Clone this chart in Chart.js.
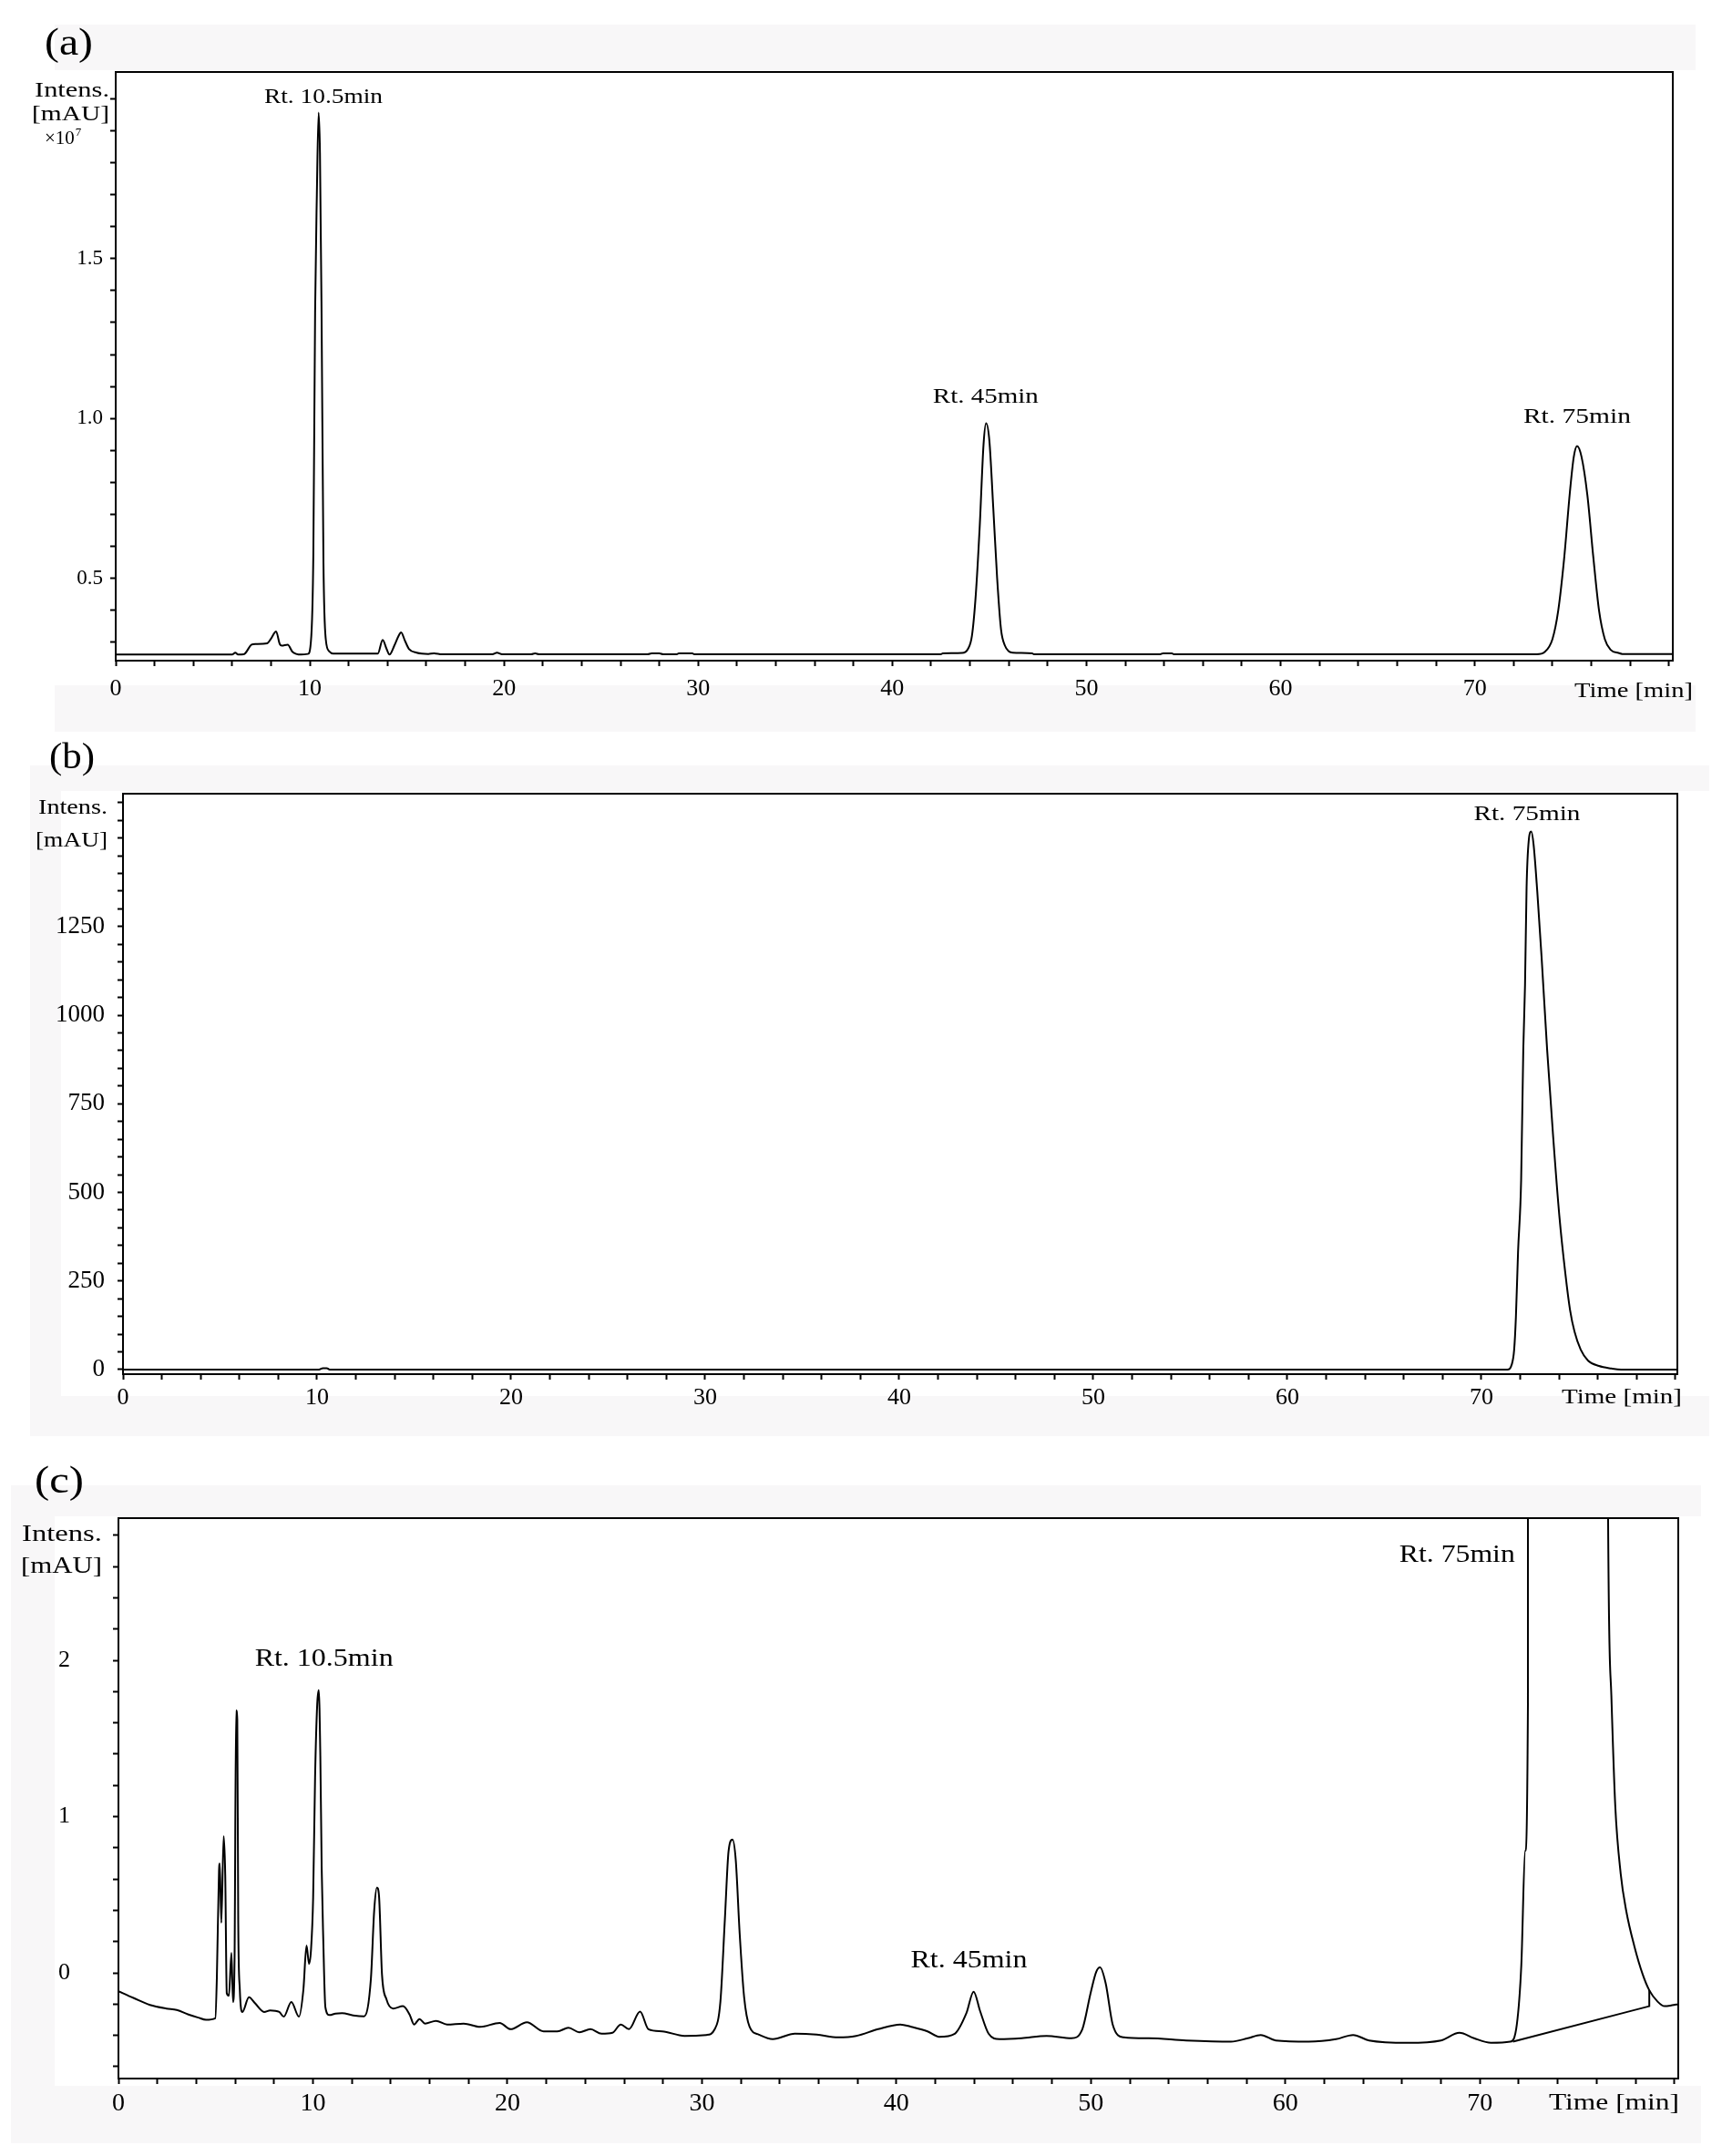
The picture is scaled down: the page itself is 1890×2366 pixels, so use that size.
<!DOCTYPE html>
<html lang="en">
<head>
<meta charset="UTF-8">
<title>HPLC chromatograms</title>
<script src="https://cdn.jsdelivr.net/npm/chart.js"></script>
<style>
  body { margin: 0; width: 1890px; height: 2366px; position: relative; background: #fff; overflow: hidden; }
  .band { position: absolute; background: #f8f7f8; }
  .white { position: absolute; background: #fff; }
  canvas { position: absolute; left: 0; }
</style>
</head>
<body>
<div class="band" style="left:60px;top:27px;width:1801px;height:776px"></div>
<div class="white" style="left:0;top:77px;width:1861px;height:675px"></div>
<div class="band" style="left:33px;top:840px;width:1843px;height:736px"></div>
<div class="white" style="left:67px;top:868px;width:1809px;height:664px"></div>
<div class="band" style="left:12px;top:1630px;width:1855px;height:722px"></div>
<div class="white" style="left:60px;top:1664px;width:1807px;height:625px"></div>

<canvas id="chartA" width="1890" height="790" style="top:0"></canvas>
<canvas id="chartB" width="1890" height="790" style="top:790px"></canvas>
<canvas id="chartC" width="1890" height="786" style="top:1580px"></canvas>

<script>
// ---- data ----
// (a) intensity in units of 1e7
const timeA = [0, 6.0, 6.16, 6.3, 6.6, 7.0, 7.2, 7.8, 8.0, 8.26, 8.45, 8.55, 8.86, 9.1, 9.55, 9.9,
  10.05, 10.18, 10.27, 10.36, 10.45, 10.52, 10.6, 10.7, 10.82, 11.0, 11.2,
  13.5, 13.75, 13.95, 14.1, 14.35, 14.55, 14.7, 14.9, 15.1, 15.5, 16.1, 16.4, 16.8,
  19.4, 19.64, 19.9, 21.4, 21.6, 21.8, 27.4, 27.6, 28.0, 28.2, 28.9, 29.0, 29.7, 29.8,
  42.5, 42.6, 43.6, 43.9, 44.1, 44.3, 44.5, 44.7, 44.83, 45.0, 45.2, 45.4, 45.6, 45.8, 46.0, 46.2, 47.2, 47.3,
  53.8, 53.95, 54.4, 54.5,
  73.2, 73.6, 74.0, 74.3, 74.6, 74.9, 75.1, 75.27, 75.5, 75.8, 76.1, 76.4, 76.7, 77.0, 77.4, 77.6, 80.2];
const intensA = [0.262, 0.262, 0.268, 0.262, 0.263, 0.293, 0.295, 0.297, 0.312, 0.334, 0.295, 0.29, 0.293, 0.271, 0.262, 0.264,
  0.30, 0.58, 1.33, 1.70, 1.956, 1.83, 1.35, 0.55, 0.31, 0.272, 0.265,
  0.265, 0.308, 0.28, 0.262, 0.29, 0.318, 0.331, 0.305, 0.28, 0.268, 0.264, 0.266, 0.263,
  0.263, 0.268, 0.263, 0.263, 0.266, 0.263, 0.263, 0.266, 0.266, 0.263, 0.263, 0.266, 0.266, 0.263,
  0.263, 0.266, 0.267, 0.28, 0.32, 0.45, 0.66, 0.92, 0.985, 0.93, 0.72, 0.50, 0.34, 0.29, 0.272, 0.268, 0.266, 0.263,
  0.263, 0.266, 0.266, 0.263,
  0.263, 0.27, 0.31, 0.40, 0.56, 0.77, 0.88, 0.914, 0.88, 0.76, 0.57, 0.40, 0.31, 0.277, 0.267, 0.264, 0.264];

// (b) intensity in mAU
const timeB = [0, 10.1, 10.3, 10.5, 10.65, 71.34, 71.57, 71.69, 71.78, 71.89, 72.05, 72.16, 72.25, 72.33, 72.44,
  72.57, 72.69, 72.88, 73.1, 73.39, 73.7, 74.02, 74.33, 74.57, 74.8, 75.12, 75.5, 76.06, 76.7, 77.2, 80.1];
const intensB = [0, 0, 4, 4, 0, 0, 15, 56, 148, 331, 535, 902, 1085, 1360, 1492,
  1518, 1482, 1350, 1167, 902, 657, 433, 270, 168, 107, 56, 25, 10, 3, 0, 0];

// (c) intensity in mAU (zoomed view; the 72.5 min apex is far off scale)
const timeC = [0, 0.77, 1.62, 2.47, 3.0, 3.6, 4.1, 4.5, 4.98, 5.06, 5.17, 5.21, 5.29, 5.41, 5.49, 5.57, 5.68,
  5.81, 5.89, 5.97, 6.05, 6.11, 6.16, 6.24, 6.37, 6.71, 7.02, 7.49, 7.8, 8.27, 8.5, 8.89, 9.28, 9.51, 9.67,
  9.8, 9.9, 10.01, 10.11, 10.22, 10.3, 10.38, 10.45, 10.53, 10.64, 10.85, 11.16, 11.5, 12.07,
  12.63, 12.98, 13.15, 13.29, 13.4, 13.55, 13.78, 14.12, 14.63, 14.97, 15.2, 15.48, 15.76, 16.33, 16.9, 17.75,
  18.6, 19.6, 20.16, 21.0, 21.86, 22.57, 23.14, 23.7, 24.27, 24.84, 25.4, 25.83, 26.25, 26.82, 27.25, 27.96,
  29.1, 30.23, 30.66, 30.95, 31.18, 31.37, 31.57, 31.74, 31.94, 32.17, 32.45, 32.93, 33.64, 34.78, 35.9, 37.0,
  37.93, 39.06, 40.2, 40.76, 41.6, 42.2, 43.0, 43.6, 43.97, 44.3, 44.74, 45.3, 46.44, 47.72, 49.0, 49.56,
  49.99, 50.27, 50.47, 50.76, 51.12, 51.69, 52.97, 54.9, 57.2, 58.07, 58.73, 59.5, 61.2, 62.6, 63.48, 64.3,
  66.3, 68.0, 68.95, 69.7, 70.57, 71.56, 71.9, 72.13, 72.33, 72.47, 72.5, 76.59, 76.76, 76.96, 77.24, 77.52,
  77.95, 78.37, 78.71, 79.14, 79.5, 79.88, 80.2];
const intensC = [-0.117, -0.16, -0.205, -0.228, -0.237, -0.266, -0.286, -0.30, -0.29, -0.03, 0.65, 0.70, 0.32, 0.875, 0.63, -0.13, -0.146,
  0.128, -0.186, 0.088, 1.68, 1.62, 0.32, -0.106, -0.25, -0.156, -0.194, -0.25, -0.24, -0.25, -0.28, -0.186, -0.28, -0.106, 0.175,
  0.058, 0.146, 0.48, 1.25, 1.72, 1.81, 1.39, 0.67, 0.22, -0.22, -0.27, -0.26, -0.257, -0.272,
  -0.278, -0.038, 0.40, 0.546, 0.488, -0.009, -0.169, -0.228, -0.213, -0.266, -0.33, -0.295, -0.324, -0.307, -0.33, -0.324,
  -0.345, -0.32, -0.36, -0.316, -0.374, -0.374, -0.351, -0.38, -0.36, -0.389, -0.383, -0.33, -0.36, -0.248, -0.36, -0.374,
  -0.403, -0.397, -0.36, -0.184, 0.342, 0.78, 0.853, 0.722, 0.254, -0.155, -0.345, -0.395, -0.424, -0.389, -0.395, -0.412,
  -0.403, -0.36, -0.33, -0.345, -0.374, -0.409, -0.389, -0.257, -0.12, -0.243, -0.389, -0.424, -0.418, -0.403, -0.418, -0.36,
  -0.126, 0.006, 0.035, -0.067, -0.33, -0.412, -0.418, -0.432, -0.44, -0.418, -0.397, -0.432, -0.44, -0.424, -0.397, -0.432,
  -0.447, -0.432, -0.383, -0.418, -0.447, -0.44, -0.33, 0.05, 0.78, 1.715, 1518, 2.95, 1.774, 1.07, 0.634, 0.40,
  0.167, -0.009, -0.111, -0.184, -0.213, -0.207, -0.2];

// integration baseline under the 75 min peak in (c)
const baseTimeC = [71.7, 78.71, 78.71];
const baseIntensC = [-0.44, -0.213, -0.111];

// tick labels
const xTickLabels = [0, 10, 20, 30, 40, 50, 60, 70];
const yTickLabelsA = [0.5, 1.0, 1.5];
const yTickLabelsB = [0, 250, 500, 750, 1000, 1250];
const yTickLabelsC = [0, 1, 2];

// ---- helpers ----
const FONT = '"Liberation Serif", "Times New Roman", serif';
Chart.defaults.font.family = FONT;
Chart.defaults.color = '#000';

function steps(lo, hi, step) {
  const out = [];
  const n = Math.round((hi - lo) / step);
  for (let i = 0; i <= n; i++) out.push(Math.round((lo + i * step) * 1000) / 1000);
  return out;
}
function pts(xs, ys) { return xs.map((x, i) => ({ x: x, y: ys[i] })); }
function isLabel(list, v) { return list.some(l => Math.abs(l - v) < 1e-6); }

// draws text squeezed/stretched to a given width
function fitText(ctx, txt, x, y, size, width, align) {
  ctx.save();
  ctx.font = size + 'px ' + FONT;
  const w = ctx.measureText(txt).width;
  ctx.translate(x, y);
  ctx.scale(width ? width / w : 1, 1);
  ctx.textAlign = align || 'left';
  ctx.textBaseline = 'alphabetic';
  ctx.fillStyle = '#000';
  ctx.fillText(txt, 0, 0);
  ctx.restore();
}

// frame + texts plugin
function framePlugin(texts, peaks) {
  return {
    id: 'frame',
    beforeDraw(chart) {
      const a = chart.chartArea, ctx = chart.ctx;
      ctx.save();
      ctx.fillStyle = '#fff';
      ctx.fillRect(a.left, a.top, a.right - a.left, a.bottom - a.top);
      ctx.restore();
    },
    afterDraw(chart) {
      const a = chart.chartArea, ctx = chart.ctx;
      ctx.save();
      ctx.strokeStyle = '#000';
      ctx.lineWidth = 2;
      ctx.beginPath();
      ctx.moveTo(a.left, a.top);
      ctx.lineTo(a.right, a.top);
      ctx.lineTo(a.right, a.bottom);
      ctx.stroke();
      ctx.restore();
      texts.forEach(t => {
        if (t.sup) {
          ctx.save();
          ctx.font = t.size + 'px ' + FONT;
          ctx.fillStyle = '#000';
          ctx.fillText(t.text, t.x, t.y);
          const w = ctx.measureText(t.text).width;
          ctx.font = Math.round(t.size * 0.62) + 'px ' + FONT;
          ctx.fillText(t.sup, t.x + w + 1, t.y - t.size * 0.42);
          ctx.restore();
        } else {
          fitText(ctx, t.text, t.x, t.y, t.size, t.w, t.align);
        }
      });
      const xs = chart.scales.x, ys = chart.scales.y;
      peaks.forEach(p => {
        fitText(ctx, p.text, xs.getPixelForValue(p.t), ys.getPixelForValue(p.v), p.size, p.w, 'center');
      });
    }
  };
}

function makeChart(id, cfg) {
  const datasets = cfg.series.map((s, i) => ({
    data: s,
    borderColor: '#000',
    borderWidth: 2,
    pointRadius: 0,
    tension: 0,
    cubicInterpolationMode: i === 0 ? 'monotone' : 'default',
    fill: false
  }));
  return new Chart(document.getElementById(id), {
    type: 'line',
    data: { datasets: datasets },
    options: {
      responsive: false,
      animation: false,
      devicePixelRatio: 1,
      parsing: false,
      layout: { padding: { top: cfg.top, right: cfg.right, left: 0, bottom: 0 } },
      plugins: { legend: { display: false }, tooltip: { enabled: false } },
      scales: {
        x: {
          type: 'linear',
          min: 0,
          max: cfg.xMax,
          afterBuildTicks: s => { s.ticks = steps(0, 80, 2).map(v => ({ value: v })); },
          afterFit: s => { s.height = cfg.xH; },
          ticks: {
            autoSkip: false, maxRotation: 0, padding: cfg.xPad,
            font: { size: cfg.xFont },
            callback: v => (isLabel(xTickLabels, v) ? String(v) : '')
          },
          grid: { drawOnChartArea: false, tickLength: 6, tickWidth: 2, tickColor: '#000' },
          border: { color: '#000', width: 2 }
        },
        y: {
          type: 'linear',
          min: cfg.yMin,
          max: cfg.yMax,
          afterBuildTicks: s => { s.ticks = cfg.yTicks.map(v => ({ value: v })); },
          afterFit: s => { s.width = cfg.yW; },
          ticks: {
            autoSkip: false, padding: cfg.yPad,
            font: { size: cfg.yFont },
            callback: v => (isLabel(cfg.yLabels, v) ? cfg.fmt(v) : '')
          },
          grid: { drawOnChartArea: false, tickLength: 6, tickWidth: 2, tickColor: '#000' },
          border: { color: '#000', width: 2 }
        }
      }
    },
    plugins: [framePlugin(cfg.texts, cfg.peaks)]
  });
}

// (a)
makeChart('chartA', {
  series: [pts(timeA, intensA)],
  top: 79, right: 54, xH: 65, yW: 127,
  xMax: 80.2, yMin: 0.243, yMax: 2.083,
  yTicks: steps(0.3, 2.0, 0.1), yLabels: yTickLabelsA, fmt: v => v.toFixed(1),
  xPad: 10, xFont: 26, yPad: 8, yFont: 23,
  texts: [
    { text: '(a)', x: 49, y: 60, size: 42, w: 53 },
    { text: 'Intens.', x: 38, y: 106, size: 23, w: 82 },
    { text: '[mAU]', x: 35, y: 132, size: 23, w: 85 },
    { text: '\u00d710', x: 49, y: 158, size: 21, sup: '7' },
    { text: 'Time [min]', x: 1728, y: 765, size: 24, w: 130 }
  ],
  peaks: [
    { text: 'Rt. 10.5min', t: 10.7, v: 1.986, size: 23, w: 130 },
    { text: 'Rt. 45min', t: 44.81, v: 1.049, size: 23, w: 116 },
    { text: 'Rt. 75min', t: 75.27, v: 0.986, size: 23, w: 118 }
  ]
});

// (b)
makeChart('chartB', {
  series: [pts(timeB, intensB)],
  top: 81, right: 49, xH: 72, yW: 135,
  xMax: 80.1, yMin: -13, yMax: 1625,
  yTicks: steps(0, 1600, 50), yLabels: yTickLabelsB, fmt: v => String(v),
  xPad: 5, xFont: 26, yPad: 14, yFont: 27,
  texts: [
    { text: '(b)', x: 54, y: 53, size: 40, w: 50 },
    { text: 'Intens.', x: 42, y: 103, size: 23, w: 76 },
    { text: '[mAU]', x: 39, y: 139, size: 23, w: 79 },
    { text: 'Time [min]', x: 1714, y: 750, size: 24, w: 132 }
  ],
  peaks: [
    { text: 'Rt. 75min', t: 72.35, v: 1551, size: 24, w: 117 }
  ]
});

// (c)
makeChart('chartC', {
  series: [pts(timeC, intensC), pts(baseTimeC, baseIntensC)],
  top: 86, right: 48, xH: 85, yW: 130,
  xMax: 80.2, yMin: -0.676, yMax: 2.91,
  yTicks: steps(-0.6, 2.8, 0.2), yLabels: yTickLabelsC, fmt: v => String(v),
  xPad: 5, xFont: 28, yPad: 47, yFont: 26,
  texts: [
    { text: '(c)', x: 38, y: 58, size: 42, w: 54 },
    { text: 'Intens.', x: 24, y: 111, size: 26, w: 88 },
    { text: '[mAU]', x: 23, y: 146, size: 26, w: 89 },
    { text: 'Time [min]', x: 1700, y: 735, size: 26, w: 143 }
  ],
  peaks: [
    { text: 'Rt. 10.5min', t: 10.57, v: 1.965, size: 27, w: 152 },
    { text: 'Rt. 45min', t: 43.73, v: 0.035, size: 27, w: 128 },
    { text: 'Rt. 75min', t: 68.83, v: 2.63, size: 27, w: 127 }
  ]
});
</script>
</body>
</html>
